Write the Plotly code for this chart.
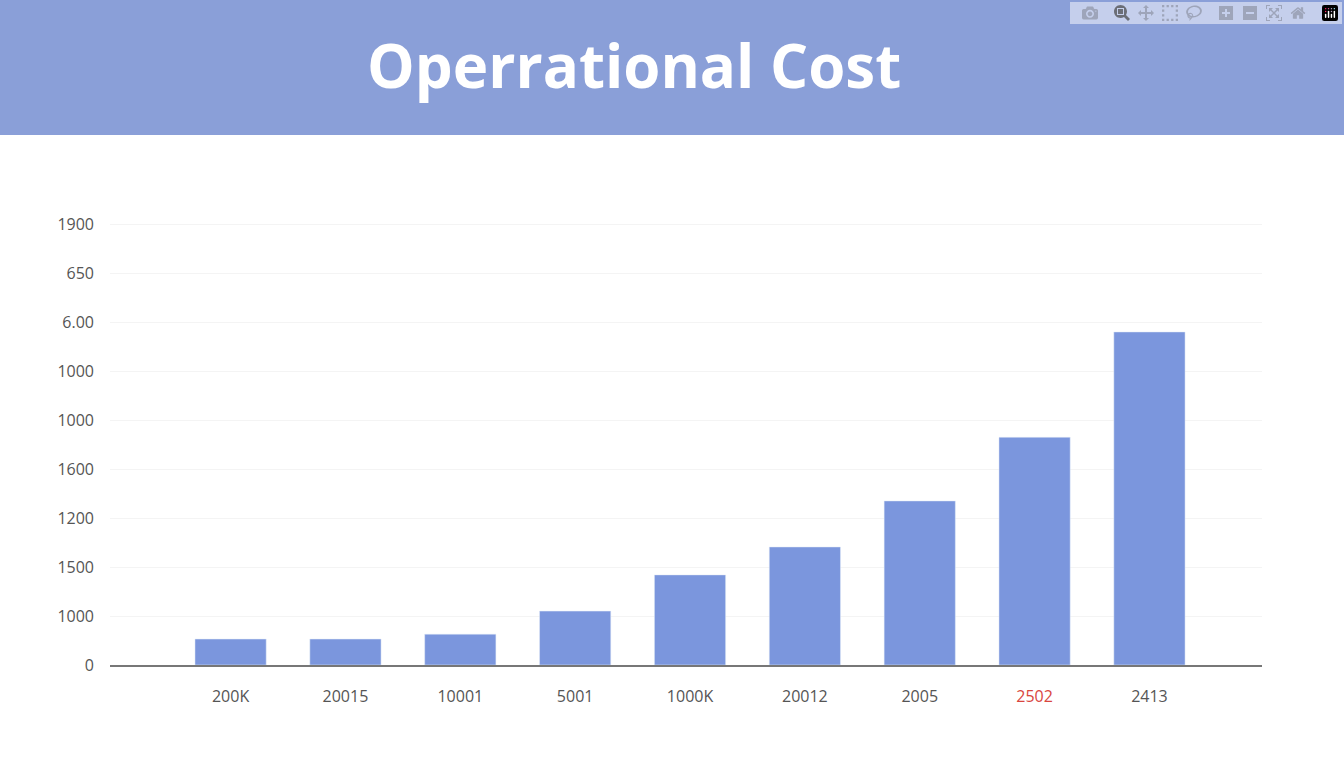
import plotly.graph_objects as go

categories = ["200K", "20015", "10001", "5001", "1000K", "20012", "2005", "2502", "2413"]
values = [0.53, 0.53, 0.63, 1.1, 1.84, 2.41, 3.35, 4.65, 6.8]
y_tick_labels = ["0", "1000", "1500", "1200", "1600", "1000", "1000", "6.00", "650", "1900"]
highlight = "2502"

x_text = [f'<span style="color:#d9463e">{c}</span>' if c == highlight else c for c in categories]

fig = go.Figure(go.Bar(x=categories, y=values, marker_color="#7b96dd", width=0.62))

fig.update_layout(
    width=1344, height=768,
    margin=dict(l=110, r=82, t=210, b=103),
    paper_bgcolor="white", plot_bgcolor="white",
    font=dict(family="Open Sans", color="#555", size=16),
    showlegend=False,
    shapes=[dict(type="rect", xref="paper", yref="paper", x0=-0.2, x1=1.2,
                 y0=1.165, y1=1.47, fillcolor="#8a9fd8", line_width=0, layer="below")],
    annotations=[dict(text="<b>Operrational Cost</b>", xref="paper", yref="paper",
                      x=0.455, y=1.319, yanchor="middle", showarrow=False,
                      font=dict(family="Open Sans", size=60, color="white"))],
)
fig.update_xaxes(tickvals=categories, ticktext=x_text, showline=True, linecolor="#777",
                 linewidth=1.5, ticks="", showgrid=False, range=[-1.05, 8.98],
                 ticklabelstandoff=16)
fig.update_yaxes(range=[0, 9.29], tickvals=list(range(len(y_tick_labels))), ticktext=y_tick_labels,
                 showgrid=True, gridcolor="#f4f4f4", zeroline=False, ticklabelstandoff=15)

fig.write_html("out.html", post_script="document.body.style.margin='0';")
